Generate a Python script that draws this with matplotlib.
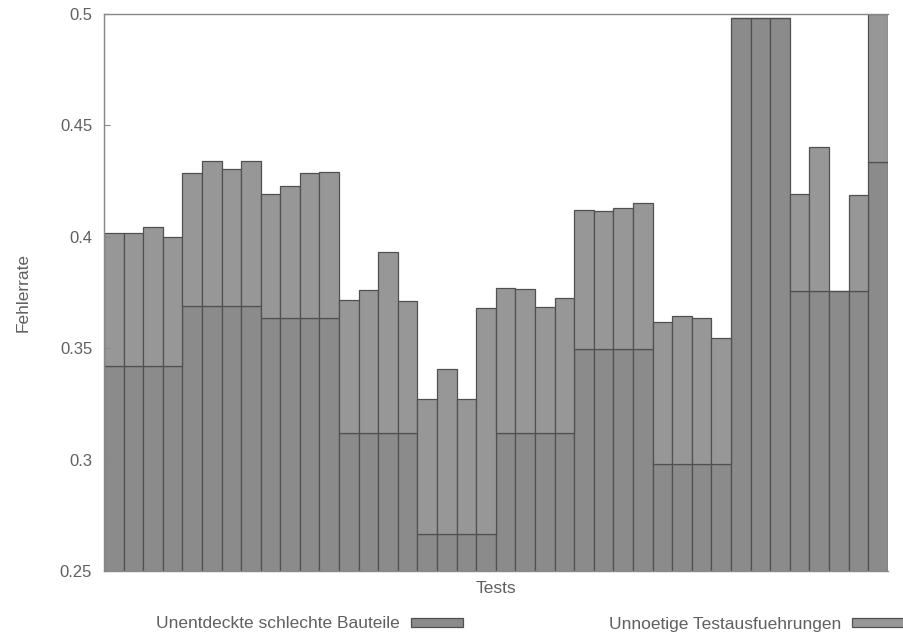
import numpy as np
import matplotlib
matplotlib.use('Agg')
import matplotlib.pyplot as plt

plt.rcParams['font.family'] = ['Liberation Sans', 'DejaVu Sans']

# Fehlerrate je Test: unterer Teil = unentdeckte schlechte Bauteile,
# oberer Teil (bis Gesamt) = unnoetige Testausfuehrungen
unentdeckt = [0.342, 0.342, 0.342, 0.342,
              0.369, 0.369, 0.369, 0.369,
              0.3635, 0.3635, 0.3635, 0.3635,
              0.312, 0.312, 0.312, 0.312,
              0.2665, 0.2665, 0.2665, 0.2665,
              0.312, 0.312, 0.312, 0.312,
              0.3495, 0.3495, 0.3495, 0.3495,
              0.298, 0.298, 0.298, 0.298,
              0.498, 0.498, 0.498,
              0.3755, 0.3755, 0.3755, 0.3755,
              0.4335]
gesamt = [0.4015, 0.4015, 0.4045, 0.400,
          0.4285, 0.434, 0.4305, 0.434,
          0.419, 0.423, 0.4285, 0.429,
          0.3715, 0.376, 0.393, 0.371,
          0.327, 0.3405, 0.327, 0.368,
          0.377, 0.3765, 0.3685, 0.3725,
          0.412, 0.4115, 0.4128, 0.415,
          0.3618, 0.3643, 0.3636, 0.3545,
          0.498, 0.498, 0.498,
          0.4193, 0.4402, 0.3758, 0.4186,
          0.5]
unnoetig = [g - u for g, u in zip(gesamt, unentdeckt)]

n = len(unentdeckt)
x = np.arange(n)

fig = plt.figure(figsize=(9.04, 6.38), dpi=100)
ax = fig.add_axes([0.115, 0.105, 0.867, 0.873])

c_unten = '#8b8b8b'
c_oben = '#979797'
ec = '#505050'

ax.bar(x, unentdeckt, width=1.0, color=c_unten, edgecolor=ec, linewidth=0.9,
       label='Unentdeckte schlechte Bauteile')
ax.bar(x, unnoetig, width=1.0, bottom=unentdeckt, color=c_oben, edgecolor=ec,
       linewidth=0.9, label='Unnoetige Testausfuehrungen')

ax.set_xlim(-0.5, n - 0.5)
ax.set_ylim(0.25, 0.5)
ax.set_yticks([0.25, 0.3, 0.35, 0.4, 0.45, 0.5])
ax.set_yticklabels(['0.25', '0.3', '0.35', '0.4', '0.45', '0.5'])
ax.set_xticks([])
ax.tick_params(axis='y', direction='in', length=4, color='#888888',
               labelcolor='#606060', labelsize=12, pad=8.5)

for s in ['left', 'top', 'bottom']:
    ax.spines[s].set_color('#888888')
    ax.spines[s].set_linewidth(1.0)
ax.spines['right'].set_visible(False)

ax.set_ylabel('Fehlerrate', color='#606060', fontsize=12.5, labelpad=21)
ax.set_xlabel('Tests', color='#606060', fontsize=12.5, labelpad=7)

h, l = ax.get_legend_handles_labels()
leg = fig.legend(h, l, loc='center', bbox_to_anchor=(530 / 904, 1 - 624 / 638),
                 ncol=2, frameon=False, markerfirst=False, fontsize=12.5,
                 handlelength=3.0, handleheight=0.4, handletextpad=0.65,
                 columnspacing=8.4, borderpad=0, borderaxespad=0)
for t in leg.get_texts():
    t.set_color('#606060')

fig.savefig('out.png', dpi=100)
